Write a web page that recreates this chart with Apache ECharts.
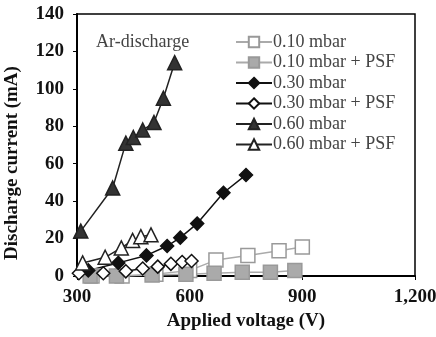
<!DOCTYPE html>
<html>
<head>
<meta charset="utf-8">
<script src="https://cdn.jsdelivr.net/npm/echarts@6/dist/echarts.min.js"></script>
<style>
  html, body {margin: 0; padding: 0; background: #fff;}
  #chart {width: 436px; height: 337px;}
</style>
</head>
<body>
<div id="chart"></div>
<script>
// values: [voltage, current]
const p010 = [[340, 0], [420, 0], [510, 1], [600, 3], [670, 8.5], [755, 11], [838, 13.5], [900, 15.5]];
const p010psf = [[335, 0], [405, 0], [500, 0.5], [590, 1], [665, 1.5], [740, 2], [815, 2], [880, 3]];
const p030 = [[330, 3], [410, 7], [485, 11], [540, 16], [575, 20.5], [620, 28], [690, 44.5], [750, 54]];
const p030psf = [[305, 1.5], [370, 1.5], [430, 2.5], [475, 4], [515, 5], [550, 6.5], [580, 7.5], [605, 8]];
const p060 = [[310, 24], [395, 47], [430, 71], [450, 74], [475, 78], [505, 82], [530, 95], [560, 114]];
const p060psf = [[315, 7], [375, 10], [418, 15], [448, 19], [470, 21], [497, 22]];
const names = ['0.10 mbar', '0.10 mbar + PSF', '0.30 mbar', '0.30 mbar + PSF', '0.60 mbar', '0.60 mbar + PSF'];

const serif = '"Liberation Serif", "DejaVu Serif", serif';

function line(name, data, symbol, size, fill, stroke, lineColor) {
    return {
        name: name,
        type: 'line',
        data: data,
        symbol: symbol,
        symbolSize: size,
        showAllSymbol: true,
        lineStyle: {color: lineColor, width: 1.5},
        itemStyle: {color: fill, borderColor: stroke, borderWidth: 1.5},
        emphasis: {disabled: true}
    }
}

let chart = echarts.init(document.getElementById('chart'));
chart.setOption({
    animation: false,
    grid: {
        left: 77, top: 14, right: 21, bottom: 61,
        outerBoundsMode: 'none',
        show: true, borderColor: '#000', borderWidth: 1.5
    },
    title: {
        text: 'Ar-discharge',
        left: 96, top: 33, padding: 0,
        textStyle: {fontFamily: serif, fontSize: 18, fontWeight: 'normal', color: '#444'}
    },
    legend: {
        data: names,
        orient: 'vertical',
        left: 230, top: 28,
        itemWidth: 36, itemHeight: 13, itemGap: 2.5,
        textStyle: {fontFamily: serif, fontSize: 18, color: '#444', padding: [0, 0, 0, -4]}
    },
    xAxis: {
        type: 'value',
        min: 300, max: 1200, interval: 300,
        name: 'Applied voltage (V)',
        nameLocation: 'middle', nameGap: 32,
        nameTextStyle: {fontFamily: serif, fontSize: 19, fontWeight: 'bold', color: '#111'},
        axisLine: {lineStyle: {color: '#000', width: 2}},
        axisTick: {show: true, length: 4, lineStyle: {color: '#000'}},
        splitLine: {show: false},
        axisLabel: {
            fontFamily: serif, fontSize: 19, fontWeight: 'bold', color: '#111', margin: 12,
            formatter: v => v.toLocaleString('en-US')
        }
    },
    yAxis: {
        type: 'value',
        min: 0, max: 140, interval: 20,
        name: 'Discharge current (mA)',
        nameLocation: 'middle', nameGap: 55,
        nameTextStyle: {
            fontFamily: serif, fontSize: 19, fontWeight: 'bold', color: '#111',
            padding: [0, 36, 0, 0]
        },
        axisLine: {show: true, lineStyle: {color: '#000', width: 2}},
        axisTick: {show: true, length: 4, lineStyle: {color: '#000'}},
        splitLine: {show: false},
        axisLabel: {fontFamily: serif, fontSize: 19, fontWeight: 'bold', color: '#111', margin: 13}
    },
    series: [
        line(names[0], p010, 'rect', 14, '#fff', '#999', '#aaa'),
        line(names[1], p010psf, 'rect', 14, '#aaa', '#999', '#aaa'),
        line(names[2], p030, 'diamond', 13, '#111', '#111', '#111'),
        line(names[3], p030psf, 'diamond', 13, '#fff', '#111', '#111'),
        line(names[4], p060, 'triangle', 14, '#333', '#222', '#222'),
        line(names[5], p060psf, 'triangle', 14, '#fff', '#222', '#222')
    ]
});
</script>
</body>
</html>
